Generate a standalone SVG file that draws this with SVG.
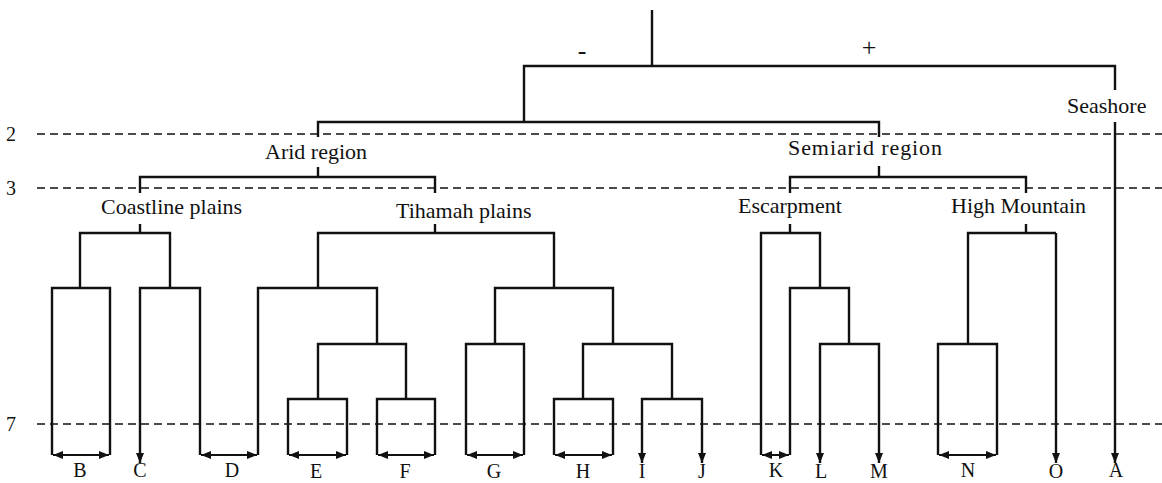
<svg xmlns="http://www.w3.org/2000/svg" width="1162" height="483" viewBox="0 0 1162 483">
<style>
.ln{fill:none;stroke:#111;stroke-width:2.4;stroke-linejoin:miter;stroke-linecap:butt}
.dash{fill:none;stroke:#111;stroke-width:1.6;stroke-dasharray:8 5}
text{font-family:'Liberation Serif','DejaVu Serif',serif;fill:#111}
.t{font-size:22px}
.lt{font-size:20px;text-anchor:middle}
.ar{marker-end:url(#ah)}
.da{marker-start:url(#ah);marker-end:url(#ah)}
</style>
<defs>
<marker id="ah" markerUnits="userSpaceOnUse" markerWidth="10" markerHeight="8" viewBox="0 0 10 8" refX="10" refY="4" orient="auto-start-reverse">
<path d="M0,0 L10,4 L0,8 z" fill="#111"/>
</marker>
</defs>
<rect width="1162" height="483" fill="#fff"/>
<g id="levels">
<line class="dash" x1="37" y1="134" x2="1162" y2="134"/>
<line class="dash" x1="37" y1="188" x2="1162" y2="188"/>
<line class="dash" x1="37" y1="424" x2="1162" y2="424"/>
<text x="6" y="141" font-size="20">2</text>
<text x="6" y="195" font-size="20">3</text>
<text x="6" y="431" font-size="20">7</text>
</g>
<g id="connectors">
<path class="ln" d="M652,10 V66"/>
<path class="ln" d="M524,122 V66 H1115 V90"/>
<path class="ln ar" d="M1115,122 V463"/>
<path class="ln" d="M318,137 V122 H879 V137"/>
<path class="ln" d="M318,167 V177 M140,193 V177 H435 V193"/>
<path class="ln" d="M879,166 V177 M790,193 V177 H1026 V193"/>
<path class="ln" d="M140,224 V233 M80,288 V233 H170 V288"/>
<path class="ln" d="M52,455 V288 H110 V455"/>
<path class="ln ar" d="M200,455 V288 H140 V463"/>
<path class="ln" d="M258,455 V288 H377 V344"/>
<path class="ln" d="M435,224 V233 M318,288 V233 H554 V288"/>
<path class="ln" d="M318,399 V344 H406 V399"/>
<path class="ln" d="M288,455 V399 H347 V455"/>
<path class="ln" d="M377,455 V399 H435 V455"/>
<path class="ln" d="M495,344 V288 H613 V344"/>
<path class="ln" d="M466,455 V344 H524 V455"/>
<path class="ln" d="M583,399 V344 H672 V399"/>
<path class="ln" d="M554,455 V399 H613 V455"/>
<path class="ln ar" d="M672,399 H642 V463"/>
<path class="ln ar" d="M672,399 H702 V463"/>
<path class="ln" d="M790,224 V233 M761,455 V233 H820 V288"/>
<path class="ln" d="M790,455 V288 H849 V344"/>
<path class="ln ar" d="M849,344 H820 V463"/>
<path class="ln ar" d="M849,344 H879 V463"/>
<path class="ln" d="M1026,224 V233 M968,344 V233 H1056"/>
<path class="ln ar" d="M1056,233 V463"/>
<path class="ln" d="M938,455 V344 H997 V455"/>
<line class="ln da" x1="53" y1="455" x2="109" y2="455" style="stroke-width:2"/>
<line class="ln da" x1="201" y1="455" x2="257" y2="455" style="stroke-width:2"/>
<line class="ln da" x1="289" y1="455" x2="346" y2="455" style="stroke-width:2"/>
<line class="ln da" x1="378" y1="455" x2="434" y2="455" style="stroke-width:2"/>
<line class="ln da" x1="467" y1="455" x2="523" y2="455" style="stroke-width:2"/>
<line class="ln da" x1="555" y1="455" x2="612" y2="455" style="stroke-width:2"/>
<line class="ln da" x1="762" y1="455" x2="789" y2="455" style="stroke-width:2"/>
<line class="ln da" x1="939" y1="455" x2="996" y2="455" style="stroke-width:2"/>
</g>
<g id="signs">
<text x="582" y="59" font-size="26" text-anchor="middle">-</text>
<text x="869" y="56" font-size="26" text-anchor="middle">+</text>
</g>
<g id="seashore"><text class="t" x="1067" y="113">Seashore</text></g>
<g id="arid"><text class="t" x="265" y="159">Arid region</text></g>
<g id="semiarid"><text class="t" x="788" y="155" textLength="154">Semiarid region</text></g>
<g id="coastline"><text class="t" x="101" y="214">Coastline plains</text></g>
<g id="tihamah"><text class="t" x="396" y="218">Tihamah plains</text></g>
<g id="escarpment"><text class="t" x="738" y="213">Escarpment</text></g>
<g id="highmountain"><text class="t" x="951" y="213">High Mountain</text></g>
<g id="leaves">
<text class="lt" x="80" y="477">B</text>
<text class="lt" x="140" y="477">C</text>
<text class="lt" x="232" y="477">D</text>
<text class="lt" x="316" y="478">E</text>
<text class="lt" x="405" y="478">F</text>
<text class="lt" x="494" y="478">G</text>
<text class="lt" x="583" y="478">H</text>
<text class="lt" x="642" y="478">I</text>
<text class="lt" x="702" y="478">J</text>
<text class="lt" x="776" y="477">K</text>
<text class="lt" x="821" y="478">L</text>
<text class="lt" x="879" y="478">M</text>
<text class="lt" x="968" y="477">N</text>
<text class="lt" x="1056" y="478">O</text>
<text class="lt" x="1116" y="477">A</text>
</g>
</svg>
